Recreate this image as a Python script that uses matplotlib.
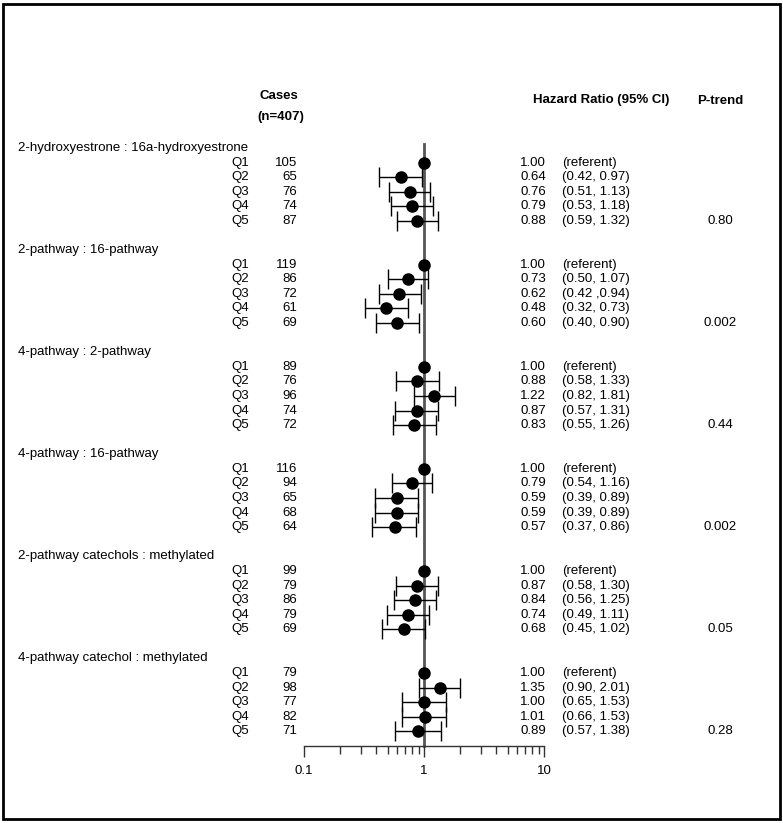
import matplotlib
matplotlib.use('Agg')
import matplotlib.pyplot as plt
import matplotlib.patches as patches
from matplotlib.transforms import blended_transform_factory
from matplotlib.ticker import LogLocator, NullFormatter, FixedLocator, FixedFormatter

plt.rcParams['font.family'] = ['Liberation Sans', 'DejaVu Sans']

groups = ['2-hydroxyestrone : 16a-hydroxyestrone',
          '2-pathway : 16-pathway',
          '4-pathway : 2-pathway',
          '4-pathway : 16-pathway',
          '2-pathway catechols : methylated',
          '4-pathway catechol : methylated']
quintiles = ['Q1', 'Q2', 'Q3', 'Q4', 'Q5']
cases = [[105, 65, 76, 74, 87],
         [119, 86, 72, 61, 69],
         [89, 76, 96, 74, 72],
         [116, 94, 65, 68, 64],
         [99, 79, 86, 79, 69],
         [79, 98, 77, 82, 71]]
hr = [[1.00, 0.64, 0.76, 0.79, 0.88],
      [1.00, 0.73, 0.62, 0.48, 0.60],
      [1.00, 0.88, 1.22, 0.87, 0.83],
      [1.00, 0.79, 0.59, 0.59, 0.57],
      [1.00, 0.87, 0.84, 0.74, 0.68],
      [1.00, 1.35, 1.00, 1.01, 0.89]]
ci_lo = [[None, 0.42, 0.51, 0.53, 0.59],
         [None, 0.50, 0.42, 0.32, 0.40],
         [None, 0.58, 0.82, 0.57, 0.55],
         [None, 0.54, 0.39, 0.39, 0.37],
         [None, 0.58, 0.56, 0.49, 0.45],
         [None, 0.90, 0.65, 0.66, 0.57]]
ci_hi = [[None, 0.97, 1.13, 1.18, 1.32],
         [None, 1.07, 0.94, 0.73, 0.90],
         [None, 1.33, 1.81, 1.31, 1.26],
         [None, 1.16, 0.89, 0.89, 0.86],
         [None, 1.30, 1.25, 1.11, 1.02],
         [None, 2.01, 1.53, 1.53, 1.38]]
ci_text = [['(referent)', '(0.42, 0.97)', '(0.51, 1.13)', '(0.53, 1.18)', '(0.59, 1.32)'],
           ['(referent)', '(0.50, 1.07)', '(0.42 ,0.94)', '(0.32, 0.73)', '(0.40, 0.90)'],
           ['(referent)', '(0.58, 1.33)', '(0.82, 1.81)', '(0.57, 1.31)', '(0.55, 1.26)'],
           ['(referent)', '(0.54, 1.16)', '(0.39, 0.89)', '(0.39, 0.89)', '(0.37, 0.86)'],
           ['(referent)', '(0.58, 1.30)', '(0.56, 1.25)', '(0.49, 1.11)', '(0.45, 1.02)'],
           ['(referent)', '(0.90, 2.01)', '(0.65, 1.53)', '(0.66, 1.53)', '(0.57, 1.38)']]
p_trend = ['0.80', '0.002', '0.44', '0.002', '0.05', '0.28']

W, H = 783, 823
fig = plt.figure(figsize=(W / 100, H / 100), dpi=100)
fs = 9.5

# axes: x 0.1..10 -> px 304..544, rows 0..41 -> px 148..746
pitch = (746 - 148) / 41.0
top_px = 140
ax = fig.add_axes([304 / W, 1 - 746 / H, 240 / W, (746 - top_px) / H])
ax.set_xscale('log')
ax.set_xlim(0.1, 10)
ax.set_ylim(41, -(148 - top_px) / pitch)
for s in ['top', 'left', 'right']:
    ax.spines[s].set_visible(False)
ax.spines['bottom'].set_linewidth(1.0)
ax.spines['bottom'].set_color('#333333')
ax.set_yticks([])
ax.xaxis.set_major_locator(FixedLocator([0.1, 1, 10]))
ax.xaxis.set_major_formatter(FixedFormatter(['0.1', '1', '10']))
ax.xaxis.set_minor_locator(LogLocator(base=10, subs=range(2, 10)))
ax.xaxis.set_minor_formatter(NullFormatter())
ax.tick_params(axis='x', which='major', length=8, width=1, color='#333333', labelsize=fs, pad=6)
ax.tick_params(axis='x', which='minor', length=6, width=1, color='#333333')
ax.patch.set_alpha(0)

# reference line
ax.plot([1, 1], [-0.3, 41], color='#555555', lw=2, zorder=1, clip_on=False)

tr_x = blended_transform_factory(fig.transFigure, ax.transData)

def fx(px):
    return px / W

for g in range(len(groups)):
    r0 = 7 * g
    ax.text(fx(18), r0, groups[g], transform=tr_x, ha='left', va='center', fontsize=fs)
    for i in range(5):
        r = r0 + 1 + i
        ax.text(fx(249), r, quintiles[i], transform=tr_x, ha='right', va='center', fontsize=fs)
        ax.text(fx(297), r, str(cases[g][i]), transform=tr_x, ha='right', va='center', fontsize=fs)
        ax.text(fx(546), r, '%.2f' % hr[g][i], transform=tr_x, ha='right', va='center', fontsize=fs)
        ax.text(fx(562), r, ci_text[g][i], transform=tr_x, ha='left', va='center', fontsize=fs)
        if ci_lo[g][i] is not None:
            ax.errorbar(hr[g][i], r, xerr=[[hr[g][i] - ci_lo[g][i]], [ci_hi[g][i] - hr[g][i]]],
                        fmt='none', ecolor='black', elinewidth=1.0, capsize=7.5, capthick=1.0, zorder=2)
        ax.plot(hr[g][i], r, 'o', color='black', ms=8, zorder=3)
    ax.text(fx(720), r0 + 5, p_trend[g], transform=tr_x, ha='center', va='center', fontsize=fs)

# column headers
fig.text(279 / W, 1 - 96 / H, 'Cases', ha='center', va='center', fontsize=fs, fontweight='bold')
fig.text(281 / W, 1 - 117 / H, '(n=407)', ha='center', va='center', fontsize=fs, fontweight='bold')
fig.text(601 / W, 1 - 100 / H, 'Hazard Ratio (95% CI)', ha='center', va='center', fontsize=fs, fontweight='bold')
fig.text(720 / W, 1 - 101 / H, 'P-trend', ha='center', va='center', fontsize=fs, fontweight='bold')

# outer frame
fig.patches.append(patches.Rectangle((3 / W, 4 / H), 777 / W, 815 / H, transform=fig.transFigure,
                                     fill=False, edgecolor='black', lw=2))

fig.savefig('out.png', dpi=100)
